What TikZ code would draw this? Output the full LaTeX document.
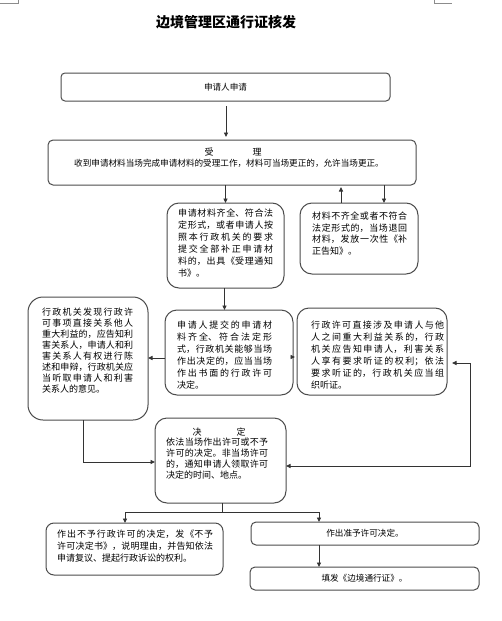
\documentclass[tikz,border=0pt]{standalone}
\usepackage{fontspec}
\setmainfont{Noto Sans CJK SC}
\usetikzlibrary{arrows.meta}
\XeTeXlinebreaklocale "zh"
\XeTeXlinebreakskip=0pt plus 3pt
\setlength{\parindent}{0pt}
\tikzset{
  box/.style={draw=black!70, line width=1pt, inner sep=0pt, outer sep=0pt, rounded corners=#1},
  box/.default=12pt,
  arr/.style={draw=black!80, line width=0.9pt, -{Triangle[length=4.5pt,width=4pt]}},
  arrboth/.style={draw=black!80, line width=0.9pt, {Triangle[length=4.5pt,width=4pt]}-{Triangle[length=4.5pt,width=4pt]}},
  plain/.style={draw=black!80, line width=0.9pt},
  txt/.style={inner sep=0pt, anchor=north west, align=justify, font=\fontsize{9}{12}\selectfont},
  lbl/.style={inner sep=0pt, font=\fontsize{8.6}{10}\selectfont},
  crop/.style={draw=black!45, line width=0.6pt}
}
\begin{document}
\begin{tikzpicture}[x=1pt,y=-1pt]
\useasboundingbox[fill=white] (0,0) rectangle (501,621);
% crop marks
\draw[crop] (0,3) -- (18,3) -- (18,0);
\draw[crop] (434,0) -- (434,3) -- (452,3);
% title
\node[inner sep=0pt, font=\fontsize{14}{16}\selectfont\bfseries] (title) at (226,22) {边境管理区通行证核发};
% boxes
\node[box=4pt, minimum width=329pt, minimum height=28pt, font=\fontsize{8.6}{10}\selectfont] (b1) at (225.5,87) {申请人申请};
\node[box=5pt, minimum width=368pt, minimum height=45pt] (b2) at (232,162.5) {};
\node[box, minimum width=117pt, minimum height=85pt] (b3) at (225.5,245.5) {};
\node[box, minimum width=118pt, minimum height=71pt] (b4) at (359,238.5) {};
\node[box=15pt, minimum width=120pt, minimum height=123pt] (b6) at (88,358.5) {};
\node[box, minimum width=128pt, minimum height=85pt] (b5) at (229,352.5) {};
\node[box, minimum width=150pt, minimum height=87pt] (b7) at (372,351.5) {};
\node[box, minimum width=131pt, minimum height=85pt] (b8) at (220.5,460.5) {};
\node[box=8pt, minimum width=177pt, minimum height=52pt] (b9) at (134.5,549) {};
\node[box=5pt, minimum width=228pt, minimum height=23pt, font=\fontsize{8.6}{10}\selectfont] (b10) at (365,533.5) {作出准予许可决定。};
\node[box=5pt, minimum width=229pt, minimum height=23pt, font=\fontsize{8.6}{10}\selectfont] (b11) at (364.5,578.5) {填发《边境通行证》。};
% texts
\node[inner sep=0pt, font=\fontsize{9}{10}\selectfont] (t2a) at (233,152) {受\hspace{39pt}理};
\node[lbl] (t2b) at (229,163) {收到申请材料当场完成申请材料的受理工作，材料可当场更正的，允许当场更正。};
\node[txt, text width=95pt] (t3) at (178,209) {申请材料齐全、符合法\linebreak 定形式，或者申请人按\linebreak 照本行政机关的要求\linebreak 提交全部补正申请材\linebreak 料的，出具《受理通知\linebreak 书》。};
\node[txt, text width=95pt, font=\fontsize{9}{11.5}\selectfont] (t4) at (312,212) {材料不齐全或者不符合\linebreak 法定形式的，当场退回\linebreak 材料，发放一次性《补\linebreak 正告知》。};
\node[txt, text width=91pt, font=\fontsize{9}{11}\selectfont] (t6) at (42,308) {行政机关发现行政许\linebreak 可事项直接关系他人\linebreak 重大利益的，应告知利\linebreak 害关系人，申请人和利\linebreak 害关系人有权进行陈\linebreak 述和申辩，行政机关应\linebreak 当听取申请人和利害\linebreak 关系人的意见。};
\node[txt, text width=95pt] (t5) at (177,321) {申请人提交的申请材\linebreak 料齐全、符合法定形\linebreak 式，行政机关能够当场\linebreak 作出决定的，应当当场\linebreak 作出书面的行政许可\linebreak 决定。};
\node[txt, text width=133pt] (t7) at (311,321) {行政许可直接涉及申请人与他\linebreak 人之间重大利益关系的，行政\linebreak 机关应告知申请人，利害关系\linebreak 人享有要求听证的权利；依法\linebreak 要求听证的，行政机关应当组\linebreak 织听证。};
\node[inner sep=0pt, font=\fontsize{9}{10}\selectfont] (t8a) at (219,432) {决\hspace{35pt}定};
\node[txt, text width=102pt, font=\fontsize{9}{11}\selectfont] (t8) at (166,438) {依法当场作出许可或不予\linebreak 许可的决定。非当场许可\linebreak 的，通知申请人领取许可\linebreak 决定的时间、地点。};
\node[txt, text width=156pt] (t9) at (57,530) {作出不予行政许可的决定，发《不予\linebreak 许可决定书》，说明理由，并告知依法\linebreak 申请复议、提起行政诉讼的权利。};
% connectors
\draw[arr, shorten <=5pt, shorten >=3pt] ([xshift=0.5pt]b1.south) -- ([xshift=0.5pt]b1.south |- b2.north);
\draw[arr] (b3.north |- b2.south) -- (b3.north);
\draw[arr, shorten >=2pt] ([xshift=-18pt]b4.north) -- ([xshift=-18pt]b4.north |- b2.south);
\draw[arr] ([xshift=25pt]b4.north |- b2.south) -- ([xshift=25pt]b4.north);
\draw[arr] ([xshift=-4.5pt]b5.north |- b3.south) -- ([xshift=-4.5pt]b5.north);
\draw[arr] ([yshift=-5.5pt]b5.west) -- ([yshift=-5.5pt]b5.west -| b6.east);
\draw[arr, shorten >=2pt] ([yshift=-4.5pt]b5.east) -- ([yshift=-4.5pt]b5.east -| b7.west);
\draw[arr] ([xshift=-5pt]b6.south) |- ([yshift=-1.5pt]b8.west);
\coordinate (rc1) at (470,363);
\coordinate (rc2) at (470,466);
\draw[arrboth, shorten <=5pt] (b7.east |- rc1) -- (rc1) -- (rc2) -- (b8.east |- rc2);
\coordinate (split) at (222,512);
\draw[plain] ([xshift=1.5pt]b8.south) -- ([xshift=1.5pt]b8.south |- split);
\draw[arr] (split) -| ([xshift=-9.5pt]b9.north);
\draw[arr] (split) -| ([xshift=-46pt]b10.north);
\draw[arr] ([xshift=-46pt]b10.south) -- ([xshift=-46pt]b10.south |- b11.north);
\end{tikzpicture}
\end{document}
